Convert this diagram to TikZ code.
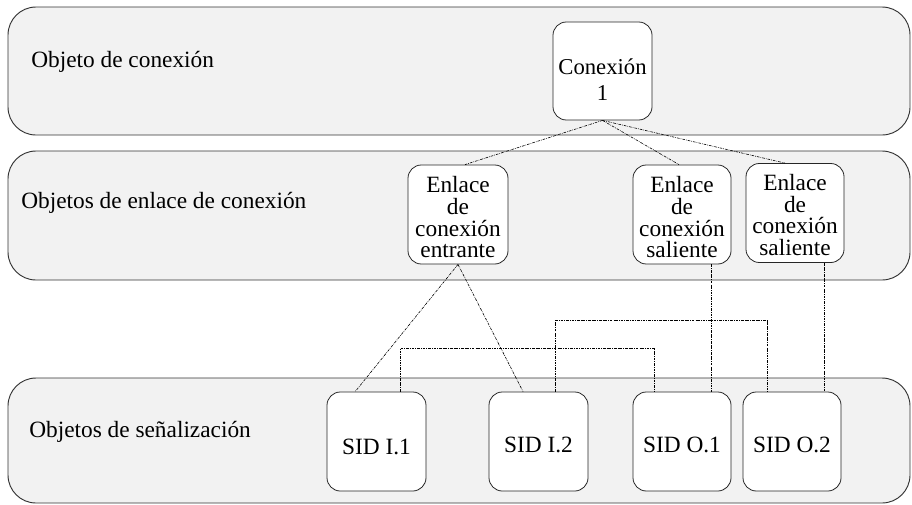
\documentclass[tikz,border=0pt]{standalone}
\usepackage{fontspec}
\setmainfont{Liberation Serif}
% invisible strut that lowers the first line of a box's text
\newcommand{\boxstrut}[1]{\rule{0pt}{#1}}
\begin{document}
\begin{tikzpicture}[x=0.75pt,y=-0.75pt,
  band/.style={draw=black!80, fill=black!5, line width=0.7pt, rounded corners=21pt},
  objbox/.style={draw=black!85, fill=white, line width=0.6pt, rounded corners=10pt,
    inner sep=0pt, align=center, font=\fontsize{17.5}{16.3}\selectfont},
  link/.style={line width=0.45pt, dash pattern=on 2pt off 0.8pt on 0.5pt off 0.8pt},
  bandlabel/.style={anchor=west, inner sep=0pt, font=\fontsize{17.5}{20}\selectfont}]
\useasboundingbox (0,0) rectangle (912,504);

% background layers
\draw[band] (8,7) rectangle (910,135);
\draw[band] (8,151) rectangle (910,280);
\draw[band] (8,378) rectangle (910,503);

\node[bandlabel] (lconn) at (31,62) {Objeto de conexión};
\node[bandlabel] (llink) at (21,203) {Objetos de enlace de conexión};
\node[bandlabel] (lsig)  at (29,432) {Objetos de señalización};

% connection object
\node[objbox, minimum width=74.25pt, minimum height=73.5pt,
      font=\fontsize{17}{19.5}\selectfont] (conn) at (602.5,71) {\boxstrut{25pt}Conexión\\1};

% connection link objects
\node[objbox, minimum width=75pt, minimum height=74.25pt] (ent)  at (458,214.5) {\boxstrut{16.5pt}Enlace\\de\\conexión\\entrante};
\node[objbox, minimum width=73.5pt, minimum height=74.25pt] (sal1) at (682,214.5) {\boxstrut{16.5pt}Enlace\\de\\conexión\\saliente};
\node[objbox, minimum width=73.5pt, minimum height=74.25pt] (sal2) at (795,213) {\boxstrut{15pt}Enlace\\de\\conexión\\saliente};

% signalling objects
\node[objbox, minimum width=74.25pt, minimum height=74.25pt] (sidi1) at (376.5,441.5) {\boxstrut{19pt}SID I.1};
\node[objbox, minimum width=74.25pt, minimum height=74.25pt] (sidi2) at (538.5,441.5) {\boxstrut{17pt}SID I.2};
\node[objbox, minimum width=73.5pt, minimum height=74.25pt] (sido1) at (682,441.5) {\boxstrut{17pt}SID O.1};
\node[objbox, minimum width=73.5pt, minimum height=74.25pt] (sido2) at (792,441.5) {\boxstrut{17pt}SID O.2};

% connection to links
\draw[link] (conn.south) -- ([xshift=5.25pt]ent.north);
\draw[link] (conn.south) -- ([xshift=-2.25pt]sal1.north);
\draw[link] (conn.south) -- ([xshift=-7.5pt]sal2.north);

% incoming link to signalling
\draw[link] (ent.south) -- ([xshift=-16pt]sidi1.north);
\draw[link] (ent.south) -- ([xshift=-11.6pt]sidi2.north);

% outgoing links to signalling
\draw[link] ([xshift=21.75pt]sal1.south) coordinate (s1) -- (s1 |- sido1.north);
\draw[link] ([xshift=21.75pt]sal2.south) coordinate (s2) -- (s2 |- sido2.north);

% pairings between signalling objects
\draw[link] ([xshift=17.6pt]sidi1.north) -- ++(0,-43) -| ([xshift=-21pt]sido1.north);
\draw[link] ([xshift=12.4pt]sidi2.north) -- ++(0,-71) -| ([xshift=-18.75pt]sido2.north);
\end{tikzpicture}
\end{document}
